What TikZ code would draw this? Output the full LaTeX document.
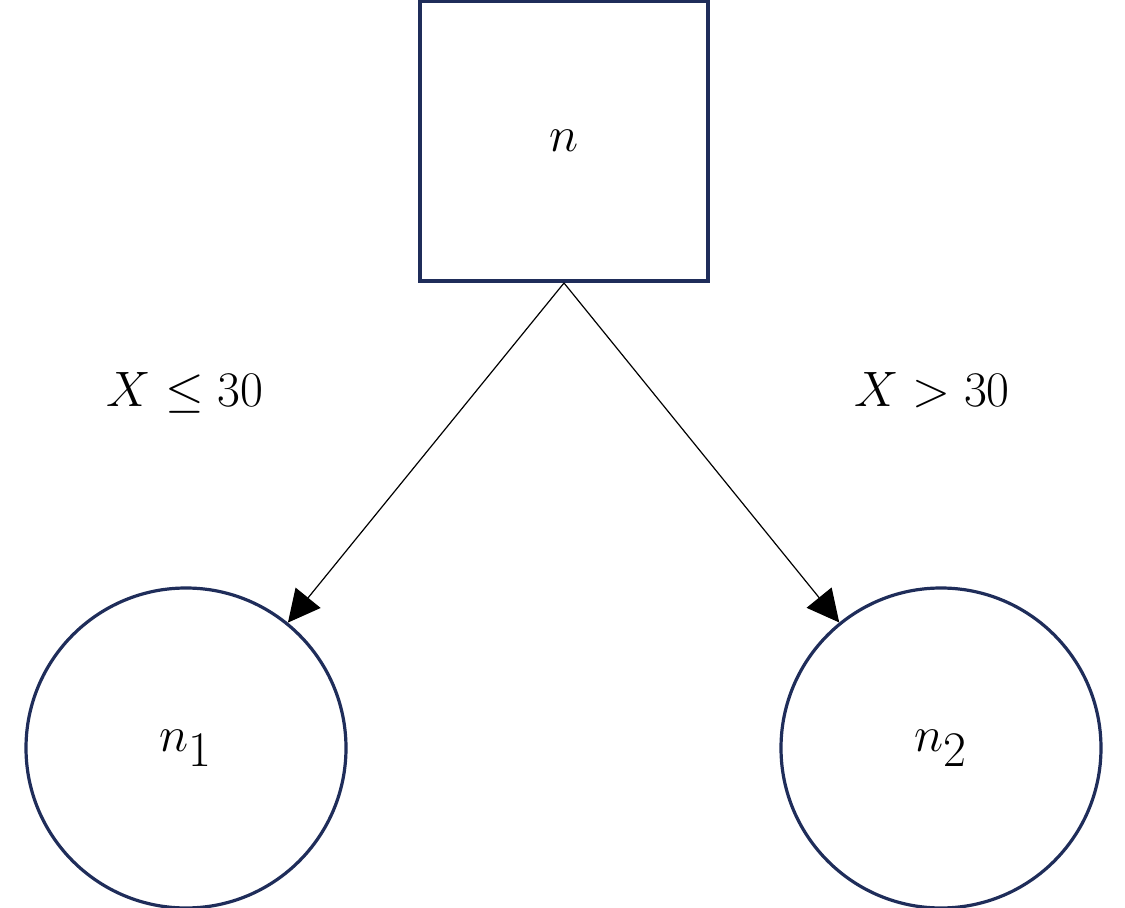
\documentclass[tikz,border=0pt]{standalone}
\usepackage{amsmath}
\usetikzlibrary{arrows.meta}
\definecolor{navy}{HTML}{1F2D5A}
\begin{document}
\begin{tikzpicture}[x=0.5pt,y=-0.5pt,
  box/.style={draw=navy,line width=2pt,minimum width=144pt,minimum height=140pt,inner sep=0pt},
  circ/.style={draw=navy,line width=1.6pt,circle,minimum size=160pt,inner sep=0pt},
  lab/.style={font=\fontsize{62}{70}\selectfont},
  arr/.style={-{Triangle[length=16pt,width=16pt]},line width=0.6pt}]
\useasboundingbox (0,0) rectangle (1125,908);
\node[box,lab] (n) at (564,141) {$n$};
\node[circ,lab] (n1) at (186,748) {$n_1$};
\node[circ,lab] (n2) at (941,748) {$n_2$};
\draw[arr] (n.south) -- (n1);
\draw[arr] (n.south) -- (n2);
\node[lab] (l1) at (185,393) {$X \leq 30$};
\node[lab] (l2) at (932,390) {$X > 30$};
\end{tikzpicture}
\end{document}
